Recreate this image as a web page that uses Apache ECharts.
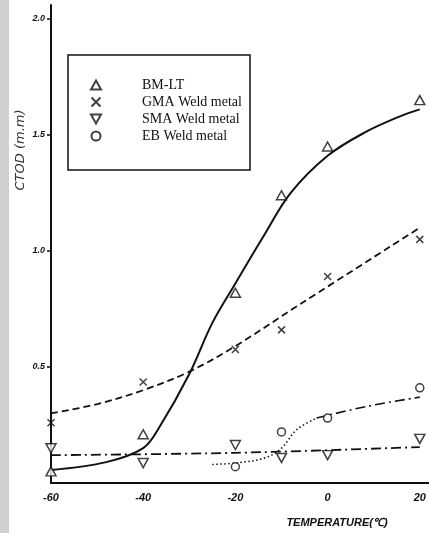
<!DOCTYPE html>
<html>
<head>
<meta charset="utf-8">
<script src="https://cdn.jsdelivr.net/npm/echarts@6/dist/echarts.min.js"></script>
<style>html,body{margin:0;padding:0;background:#fff}#c{width:429px;height:533px}</style>
</head>
<body>
<div id="c"></div>
<script>
// ---- data ----
const legendNames = ['BM-LT', 'GMA Weld metal', 'SMA Weld metal', 'EB Weld metal'];
const xTickValues = [-60, -40, -20, 0, 20];
const yTickValues = [0.5, 1.0, 1.5, 2.0];

const bmPoints  = [[-60, 0.05], [-40, 0.21], [-20, 0.82], [-10, 1.24], [0, 1.45], [20, 1.65]];
const gmaPoints = [[-60, 0.26], [-40, 0.435], [-20, 0.575], [-10, 0.66], [0, 0.89], [20, 1.05]];
const smaPoints = [[-60, 0.15], [-40, 0.086], [-20, 0.164], [-10, 0.108], [0, 0.12], [20, 0.19]];
const ebPoints  = [[-20, 0.07], [-10, 0.22], [0, 0.28], [20, 0.41]];

const bmCurve  = [[-60, 0.056], [-48, 0.09], [-40, 0.15], [-36.5, 0.24], [-30, 0.47],
                  [-25, 0.69], [-20, 0.86], [-14, 1.06], [-8, 1.25], [0, 1.41], [8, 1.51],
                  [15.7, 1.58], [20, 1.61]];
const gmaCurve = [[-60, 0.30], [-50, 0.34], [-40, 0.40], [-30, 0.48], [-20, 0.59], [-6, 0.77], [20, 1.10]];
const smaCurve = [[-60, 0.12], [-20, 0.13], [20, 0.155]];
const ebCurveDotted  = [[-25, 0.08], [-19, 0.088], [-13.3, 0.11], [-10, 0.15], [-6.7, 0.23], [-2.4, 0.28]];
const ebCurveDashDot = [[-2.4, 0.28], [8.5, 0.33], [20, 0.37]];

// ---- chart ----
const ink = '#111';
const chart = echarts.init(document.getElementById('c'), null, {renderer: 'canvas'});
const triUp = 'triangle';
const cross = 'path://M0,0L10,10M10,0L0,10';
const triDown = 'path://M0,0L10,0L5,9Z';

function curve(data, lineType, width) {
  return {
    type: 'line', data: data, showSymbol: false, symbol: 'none', smooth: 0.35,
    lineStyle: {color: ink, width: width, type: lineType}, silent: true, z: 2, legendHoverLink: false
  };
}
function marks(name, data, symbol, size) {
  return {
    type: 'scatter', name: name, data: data, symbol: symbol, symbolSize: size, z: 5,
    itemStyle: {color: symbol === cross ? 'none' : '#fff', borderColor: ink, borderWidth: 1.5}
  };
}

chart.setOption({
  animation: false,
  backgroundColor: '#fff',
  grid: {left: 51, right: 0, top: 5, bottom: 50, containLabel: false},
  xAxis: {
    type: 'value', min: -60, max: 22,
    axisLine: {show: true, onZero: false, lineStyle: {color: ink, width: 2}},
    axisTick: {show: false},
    splitLine: {show: false},
    axisLabel: {
      customValues: xTickValues, margin: 9,
      fontFamily: 'Liberation Sans', fontStyle: 'italic', fontWeight: 'bold', fontSize: 11, color: ink,
      formatter: v => String(v)
    }
  },
  yAxis: {
    type: 'value', min: 0, max: 2.06,
    axisLine: {show: true, onZero: false, lineStyle: {color: ink, width: 2}},
    axisTick: {show: true, customValues: yTickValues, length: 4, lineStyle: {color: ink, width: 1.5}},
    splitLine: {show: false},
    axisLabel: {
      customValues: yTickValues, margin: 6,
      fontFamily: 'Liberation Sans', fontStyle: 'italic', fontWeight: 'bold', fontSize: 9, color: ink,
      formatter: v => v.toFixed(1)
    }
  },
  legend: {
    orient: 'vertical', left: 84, top: 73,
    itemWidth: 10, itemHeight: 9, itemGap: 3,
    textStyle: {fontFamily: 'Liberation Serif', fontSize: 14, color: ink, padding: [0, 0, 0, 36]},
    data: [
      {name: legendNames[0], icon: triUp},
      {name: legendNames[1], icon: cross},
      {name: legendNames[2], icon: triDown},
      {name: legendNames[3], icon: 'circle'}
    ],
    selectedMode: false
  },
  graphic: [
    {type: 'rect', left: 0, top: 0, shape: {width: 9, height: 533}, style: {fill: '#cfcfcf'}, silent: true, z: -1},
    {type: 'rect', shape: {x: 68, y: 55, width: 182, height: 115}, style: {fill: 'none', stroke: ink, lineWidth: 1.5}, silent: true},
    {type: 'text', x: 21, y: 150, rotation: Math.PI / 2,
     style: {text: 'CTOD (m.m)', fill: '#333', font: 'italic 13px "DejaVu Sans"', align: 'center', verticalAlign: 'middle'}},
    {type: 'text', x: 337, y: 523,
     style: {text: 'TEMPERATURE(℃)', fill: ink, font: 'italic bold 11px "Liberation Sans"', align: 'center', verticalAlign: 'middle'}}
  ],
  series: [
    curve(bmCurve, 'solid', 2),
    curve(gmaCurve, [7, 4], 1.8),
    curve(smaCurve, [10, 4, 2, 4], 1.8),
    curve(ebCurveDotted, [1.5, 2.5], 1.5),
    curve(ebCurveDashDot, [10, 4, 2, 4], 1.6),
    marks(legendNames[0], bmPoints, triUp, [10, 9]),
    marks(legendNames[1], gmaPoints, cross, 7),
    marks(legendNames[2], smaPoints, triDown, [10, 9]),
    marks(legendNames[3], ebPoints, 'circle', 8)
  ]
});
</script>
</body>
</html>
